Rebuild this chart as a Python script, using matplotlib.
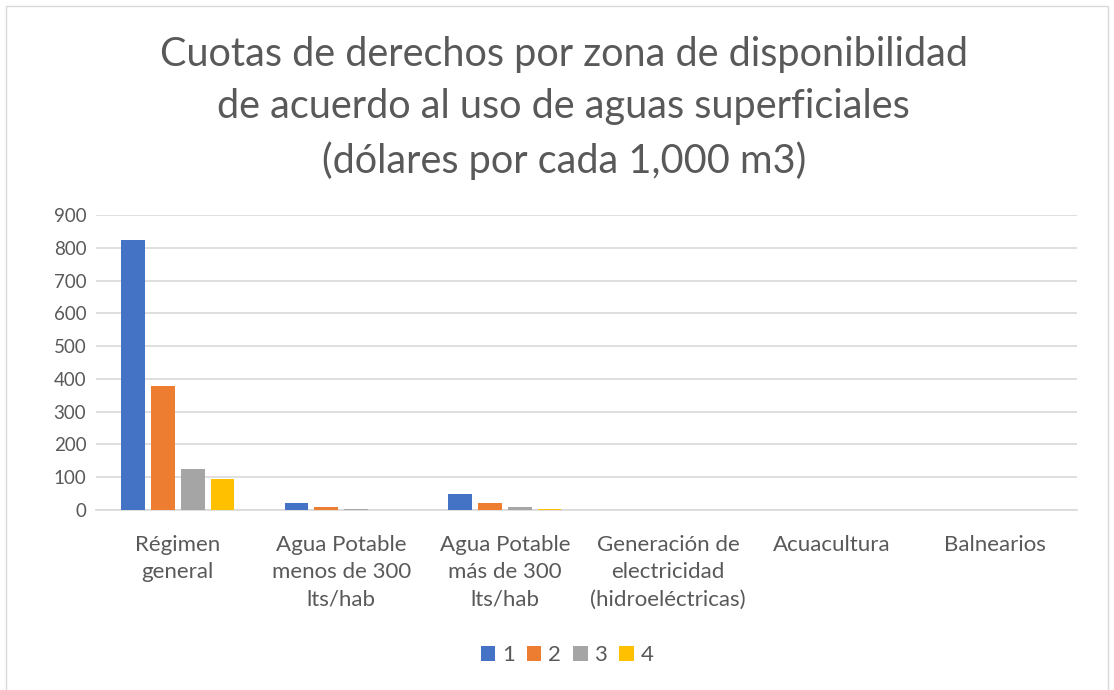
import matplotlib.pyplot as plt
import numpy as np
from matplotlib.patches import Rectangle

categories = ["Régimen\ngeneral", "Agua Potable\nmenos de 300\nlts/hab", "Agua Potable\nmás de 300\nlts/hab",
              "Generación de\nelectricidad\n(hidroeléctricas)", "Acuacultura", "Balnearios"]
series_names = ["1", "2", "3", "4"]
s1 = [823, 22, 48, 0.4, 0.2, 0.1]
s2 = [379, 10, 21, 0.2, 0.1, 0.05]
s3 = [124, 3.5, 10, 0.1, 0.05, 0.03]
s4 = [94, 1.5, 3.5, 0.05, 0.03, 0.02]
yticks = [0, 100, 200, 300, 400, 500, 600, 700, 800, 900]
colors = ["#4472C4", "#ED7D31", "#A5A5A5", "#FFC000"]
txt = "#595959"

plt.rcParams['font.family'] = ['Lato', 'DejaVu Sans']
fig = plt.figure(figsize=(11.14, 6.9), dpi=100)
fig.patches.append(Rectangle((6/1114, -0.02), 1102/1114, 1.02 - 6/690, transform=fig.transFigure,
                             fill=False, edgecolor="#D9D9D9", lw=1))
ax = fig.add_axes([96/1114, 1-510/690, (1077-96)/1114, (510-215)/690])

x = np.arange(len(categories))
w = 0.145
step = 0.183
for i, (vals, c, n) in enumerate(zip([s1, s2, s3, s4], colors, series_names)):
    ax.bar(x + (i - 1.5) * step, vals, width=w, color=c, label=n, zorder=3)

ax.set_xlim(-0.5, len(categories) - 0.5)
ax.set_ylim(0, 900)
ax.set_yticks(yticks)
ax.set_yticklabels([str(v) for v in yticks], fontsize=13.5, color=txt)
ax.set_xticks(x)
ax.set_xticklabels(categories, fontsize=16, color=txt, linespacing=1.45)
ax.tick_params(axis='x', length=0, pad=18)
ax.tick_params(axis='y', length=0, pad=7)
ax.yaxis.grid(True, color="#D9D9D9", lw=1.2, zorder=0)
for s in ["top", "right", "left"]:
    ax.spines[s].set_visible(False)
ax.spines["bottom"].set_color("#D9D9D9")
ax.spines["bottom"].set_linewidth(1.2)

fig.text(0.506, 1-108/690, "Cuotas de derechos por zona de disponibilidad\nde acuerdo al uso de aguas superficiales\n(dólares por cada 1,000 m3)",
         ha="center", va="center", fontsize=28.5, color=txt, linespacing=1.5)

fig.legend(loc="center", bbox_to_anchor=(567/1114, 1-655/690), ncol=4, frameon=False,
           fontsize=16, handlelength=0.65, handleheight=0.65, handletextpad=0.3, columnspacing=0.55,
           labelcolor=txt)

fig.savefig("out.png", dpi=100)
